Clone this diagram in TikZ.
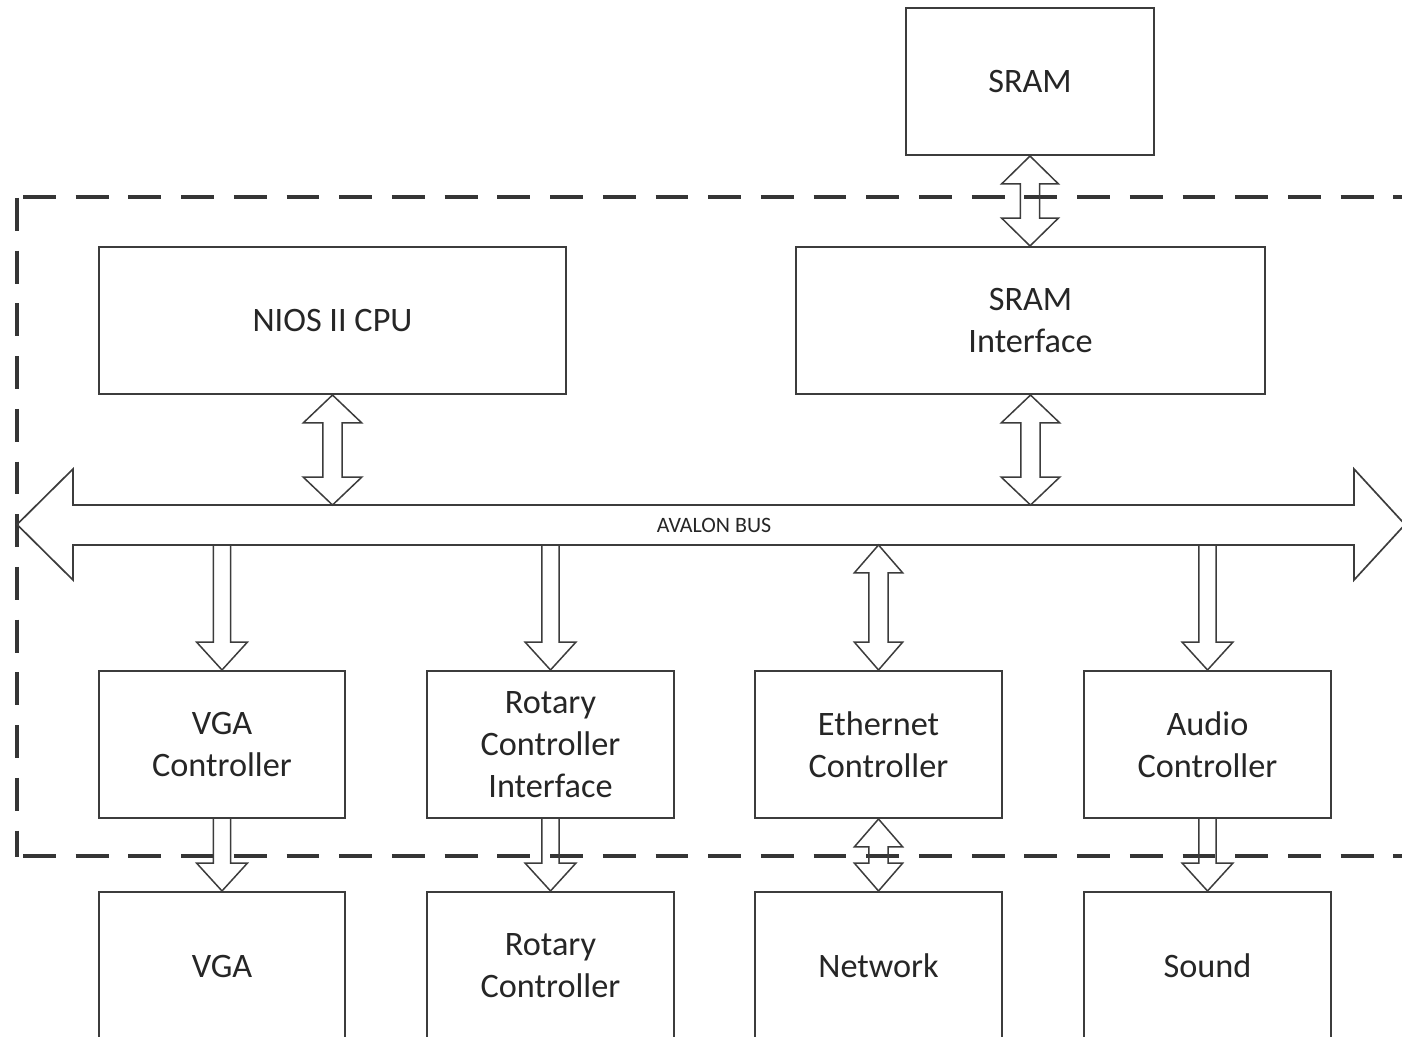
\documentclass[tikz,border=0pt]{standalone}
\usepackage{fontspec}
\setmainfont{Carlito}
\usetikzlibrary{calc}
\definecolor{ln}{HTML}{3C3C3C}
\definecolor{dl}{HTML}{353535}
\definecolor{tx}{HTML}{262626}
\tikzset{
  box/.style={draw=ln, line width=1.2pt, rectangle, inner sep=0pt, align=center,
    text=tx, font=\fontsize{19.5}{23.8}\selectfont,
    minimum width=4.93cm, minimum height=2.94cm},
  barrow/.style={draw=ln, line width=0.85pt, line join=miter},
  dashline/.style={draw=dl, line width=2.1pt, dash pattern=on 18.7pt off 11.3pt},
}
% double block arrow: #1 upper tip, #2 lower tip (same x), #3 head half-width
\newcommand\DArrow[3][15.5pt]{\draw[barrow] let \p1=(#2), \p2=(#3) in
  (\x1,\y1) -- (\x1+#1,\y1-15.9pt) -- (\x1+5.5pt,\y1-15.9pt) -- (\x1+5.5pt,\y2+15.9pt)
  -- (\x1+#1,\y2+15.9pt) -- (\x1,\y2) -- (\x1-#1,\y2+15.9pt) -- (\x1-5.5pt,\y2+15.9pt)
  -- (\x1-5.5pt,\y1-15.9pt) -- (\x1-#1,\y1-15.9pt) -- cycle;}
% single block arrow pointing down: #1 top of shaft, #2 tip
\newcommand\SArrow[2]{\draw[barrow] let \p1=(#1), \p2=(#2) in
  (\x1-4.9pt,\y1) -- (\x1-4.9pt,\y2+15.9pt) -- (\x1-14.5pt,\y2+15.9pt) -- (\x1,\y2)
  -- (\x1+14.5pt,\y2+15.9pt) -- (\x1+4.9pt,\y2+15.9pt) -- (\x1+4.9pt,\y1);}
\begin{document}
\begin{tikzpicture}[x=0.02cm, y=-0.02cm]
\useasboundingbox (0,0) rectangle (1402,1037);
\clip (0,0) rectangle (1402,1037);
\fill[white] (0,0) rectangle (1402,1037);

% dashed boundary
\draw[dashline] (23,197) -- (1430,197);
\draw[dashline] (17,198) -- (17,857);
\draw[dashline] (23,856) -- (1430,856);

% boxes
\node[box, minimum width=4.96cm] (sram) at (1030,81.5) {SRAM};
\node[box, minimum width=9.34cm] (nios) at (332.5,320.5) {NIOS II CPU};
\node[box, minimum width=9.38cm] (sramif) at (1030.5,320.5) {SRAM\\Interface};
\node[box] (vgac) at (222,744.5) {VGA\\Controller};
\node[box] (rotc) at (550.5,744.5) {Rotary\\Controller\\Interface};
\node[box] (ethc) at (878.5,744.5) {Ethernet\\Controller};
\node[box] (audc) at (1207.5,744.5) {Audio\\Controller};
\node[box, minimum height=2.96cm] (vga) at (222,966) {VGA};
\node[box, minimum height=2.96cm] (rot) at (550.5,966) {Rotary\\Controller};
\node[box, minimum height=2.96cm] (net) at (878.5,966) {Network};
\node[box, minimum height=2.96cm] (snd) at (1207.5,966) {Sound};

% Avalon bus
\coordinate (bustop) at (0,505);
\coordinate (busbot) at (0,545);
\draw[barrow, line width=0.95pt] (17,524.5) -- (73,469) -- (73,505) -- (1354,505) -- (1354,469)
  -- (1405,524.5) -- (1354,580) -- (1354,545) -- (73,545) -- (73,580) -- cycle;
\node[text=tx, font=\fontsize{12.5}{15}\selectfont] (bus) at (714,525) {AVALON BUS};

% connectors
\DArrow[16.2pt]{sram.south}{sramif.north}
\DArrow[16.7pt]{nios.south}{nios.south |- bustop}
\DArrow[16.7pt]{sramif.south}{sramif.south |- bustop}
\SArrow{vgac.north |- busbot}{vgac.north}
\SArrow{rotc.north |- busbot}{rotc.north}
\DArrow[13.8pt]{ethc.north |- busbot}{ethc.north}
\SArrow{audc.north |- busbot}{audc.north}
\SArrow{vgac.south}{vga.north}
\SArrow{rotc.south}{rot.north}
\DArrow[13.8pt]{ethc.south}{net.north}
\SArrow{audc.south}{snd.north}
\end{tikzpicture}
\end{document}
